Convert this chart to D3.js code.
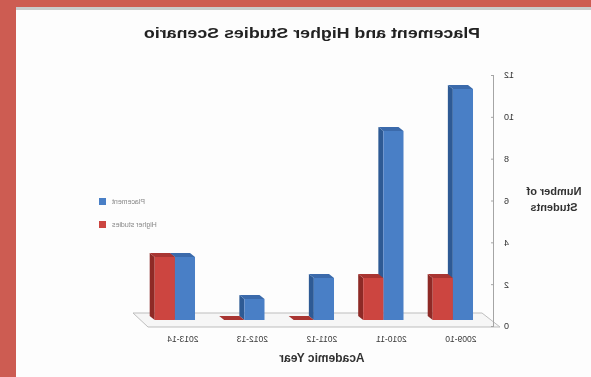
<!DOCTYPE html>
<meta charset="utf-8">
<script src="https://d3js.org/d3.v7.min.js"></script>
<style>
  body { margin: 0; background: #fff; }
  svg { display: block; font-family: "Liberation Sans", Arial, sans-serif; }
</style>
<div id="chart"></div>
<script>

// data
var years = ["2009-10", "2010-11", "2011-12", "2012-13", "2013-14"];
var placement = [11, 9, 2, 1, 3];
var higherStudies = [2, 2, 0, 0, 3];
var seriesNames = ["Placement", "Higher studies"];
var yTicks = [0, 2, 4, 6, 8, 10, 12];

var W = 591, H = 377;
var colors = {
  "Placement": {front: "#4a7fc6", side: "#2d5a94", top: "#3a6aab"},
  "Higher studies": {front: "#cc443f", side: "#8e2a27", top: "#a93431"}
};

var svg = d3.select("#chart").append("svg")
  .attr("width", W).attr("height", H);

svg.append("defs").append("filter").attr("id", "soft")
  .append("feGaussianBlur").attr("stdDeviation", 0.6);

// red frame of the photo
svg.append("rect").attr("width", W).attr("height", H).attr("fill", "#cd5c52");
svg.append("rect").attr("x", 16).attr("y", 7).attr("width", W - 16).attr("height", H - 7).attr("fill", "#fdfdfd");
svg.append("rect").attr("x", 16).attr("y", 7).attr("width", W - 16).attr("height", 3).attr("fill", "#c9cbcc");

// the chart itself is mirrored, as in the picture
var g = svg.append("g")
  .attr("filter", "url(#soft)")
  .attr("transform", "translate(" + W + ",0) scale(-1,1)");

var base = 320, dx = 5, dy = -4;

var x0 = d3.scaleBand().domain(years).range([103.4, 450.9]).paddingInner(0.42).paddingOuter(0.21);
var x1 = d3.scaleBand().domain(seriesNames).range([0, x0.bandwidth()]);
var yb = d3.scaleLinear().domain([0, 12]).range([base, 68]);
var ya = d3.scaleLinear().domain([0, 12]).range([326, 75]);

// floor
g.append("path")
  .attr("d", "M109,313 L458,313 L443,327 L91,327 Z")
  .attr("fill", "#f6f6f6").attr("stroke", "#bdbdbd").attr("stroke-width", 1);

// y axis
var axis = g.append("g").attr("transform", "translate(97,0)")
  .call(d3.axisLeft(ya).tickValues(yTicks).tickSizeInner(-3).tickSizeOuter(0).tickPadding(10));
axis.select(".domain").attr("stroke", "#a5a5a5");
axis.selectAll(".tick line").attr("stroke", "#a5a5a5");
axis.selectAll(".tick text").attr("font-size", 9).attr("fill", "#333");

// bars
var rows = [];
years.forEach(function(yr, i) {
  rows.push({year: yr, name: "Placement", value: placement[i]});
  rows.push({year: yr, name: "Higher studies", value: higherStudies[i]});
});

rows.forEach(function(d) {
  var x = x0(d.year) + x1(d.name), w = x1.bandwidth(), t = yb(d.value);
  var c = colors[d.name];
  var bar = g.append("g");
  bar.append("path")
    .attr("d", "M" + (x + w) + "," + t + " L" + (x + w + dx) + "," + (t + dy) +
      " L" + (x + w + dx) + "," + (base + dy) + " L" + (x + w) + "," + base + " Z")
    .attr("fill", c.side);
  bar.append("rect")
    .attr("x", x).attr("y", t).attr("width", w).attr("height", base - t)
    .attr("fill", c.front);
  bar.append("path")
    .attr("d", "M" + x + "," + t + " L" + (x + dx) + "," + (t + dy) +
      " L" + (x + w + dx) + "," + (t + dy) + " L" + (x + w) + "," + t + " Z")
    .attr("fill", c.top);
});

// x labels
g.selectAll(".xlab").data(years).enter().append("text")
  .attr("x", function(d) { return x0(d) + x0.bandwidth() / 2 - 8; })
  .attr("y", 342)
  .attr("text-anchor", "middle")
  .attr("font-size", 8.5).attr("fill", "#3a3a3a")
  .text(function(d) { return d; });

// titles
g.append("text").attr("x", 279).attr("y", 38).attr("text-anchor", "middle")
  .attr("font-size", 15).attr("font-weight", "bold").attr("fill", "#222")
  .attr("textLength", 336).attr("lengthAdjust", "spacingAndGlyphs")
  .text("Placement and Higher Studies Scenario");

g.append("text").attr("x", 269).attr("y", 362).attr("text-anchor", "middle")
  .attr("font-size", 12).attr("font-weight", "bold").attr("fill", "#333")
  .text("Academic Year");

var yt = g.append("text").attr("text-anchor", "middle")
  .attr("font-size", 11).attr("font-weight", "bold").attr("fill", "#333");
yt.append("tspan").attr("x", 37).attr("y", 195).text("Number of");
yt.append("tspan").attr("x", 37).attr("y", 211).text("Students");

// legend
var leg = g.selectAll(".leg").data(seriesNames).enter().append("g")
  .attr("transform", function(d, i) { return "translate(485," + (198 + i * 23) + ")"; });
leg.append("rect").attr("width", 7).attr("height", 7)
  .attr("fill", function(d) { return colors[d].front; });
leg.append("text").attr("x", -6).attr("y", 6).attr("text-anchor", "end")
  .attr("font-size", 7).attr("fill", "#888")
  .text(function(d) { return d; });

</script>
